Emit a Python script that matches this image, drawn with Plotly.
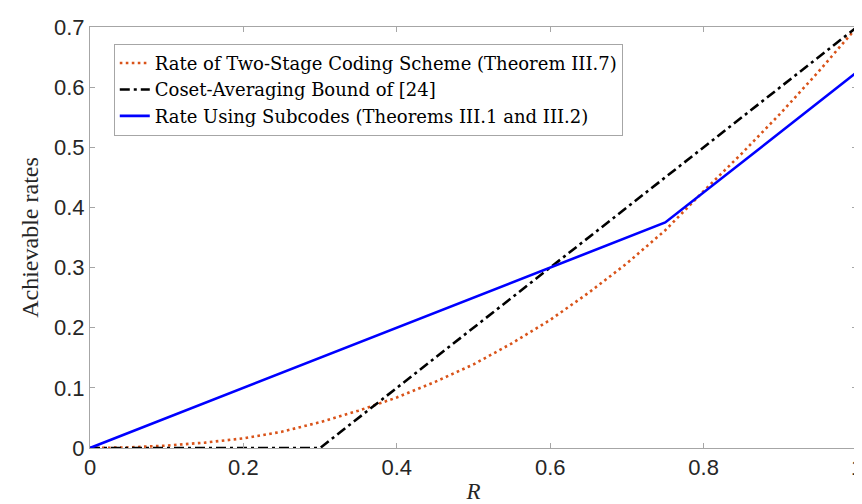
import plotly.graph_objects as go

# Data
r_two_stage = [0, 0.05, 0.1, 0.15, 0.2, 0.25, 0.3, 0.35, 0.4, 0.45, 0.5,
               0.55, 0.6, 0.65, 0.7, 0.75, 0.8, 0.85, 0.9, 0.95, 1.0]
rate_two_stage = [0, 0.001, 0.004, 0.009, 0.016, 0.027, 0.043, 0.062, 0.084, 0.11, 0.139,
                  0.174, 0.213, 0.258, 0.307, 0.362, 0.427, 0.49, 0.556, 0.626, 0.7]

r_coset = [0, 0.3, 1.0]
rate_coset = [0, 0, 0.7]

r_subcodes = [0, 0.75, 1.0]
rate_subcodes = [0, 0.375, 0.625]

x_ticks = [0, 0.2, 0.4, 0.6, 0.8, 1]
x_tick_text = ["0", "0.2", "0.4", "0.6", "0.8", "1"]
y_ticks = [0, 0.1, 0.2, 0.3, 0.4, 0.5, 0.6, 0.7]
y_tick_text = ["0", "0.1", "0.2", "0.3", "0.4", "0.5", "0.6", "0.7"]

names = [
    "Rate of Two-Stage Coding Scheme (Theorem III.7)",
    "Coset-Averaging Bound of [24]",
    "Rate Using Subcodes (Theorems III.1 and III.2)",
]

fig = go.Figure()
fig.add_trace(go.Scatter(x=r_two_stage, y=rate_two_stage, mode="lines", name=names[0],
                         line=dict(color="#D95319", width=2.6, dash="2.6px,3.4px")))
fig.add_trace(go.Scatter(x=r_coset, y=rate_coset, mode="lines", name=names[1],
                         line=dict(color="#000000", width=2.6, dash="10px,4px,3px,4px")))
fig.add_trace(go.Scatter(x=r_subcodes, y=rate_subcodes, mode="lines", name=names[2],
                         line=dict(color="#0000FF", width=2.6)))

axis_common = dict(
    showline=True, linecolor="#A6A6A6", linewidth=1, mirror="ticks",
    ticks="inside", ticklen=5, tickcolor="#A6A6A6", tickwidth=1,
    showgrid=False, zeroline=False,
    tickfont=dict(family="Liberation Sans, Arial, sans-serif", size=22, color="#262626"),
)

fig.update_layout(
    width=862, height=504,
    margin=dict(l=82, r=7, t=15, b=64),
    paper_bgcolor="white", plot_bgcolor="white",
    xaxis=dict(range=[0, 1], tickvals=x_ticks, ticktext=x_tick_text,
               title=dict(text="<i>R</i>", standoff=3,
                          font=dict(family="Liberation Serif, serif", size=23, color="#262626")),
               **axis_common),
    yaxis=dict(range=[0, 0.7], tickvals=y_ticks, ticktext=y_tick_text,
               title=dict(text="Achievable rates", standoff=8,
                          font=dict(family="Liberation Serif, serif", size=24, color="#262626")),
               **axis_common),
    legend=dict(x=0.031, y=0.96, xanchor="left", yanchor="top",
                bgcolor="white", bordercolor="#A6A6A6", borderwidth=1,
                font=dict(family="DejaVu Serif, serif", size=18, color="#000000"),
                itemwidth=30, tracegroupgap=0),
    showlegend=True,
)

fig.write_html("out.html")
